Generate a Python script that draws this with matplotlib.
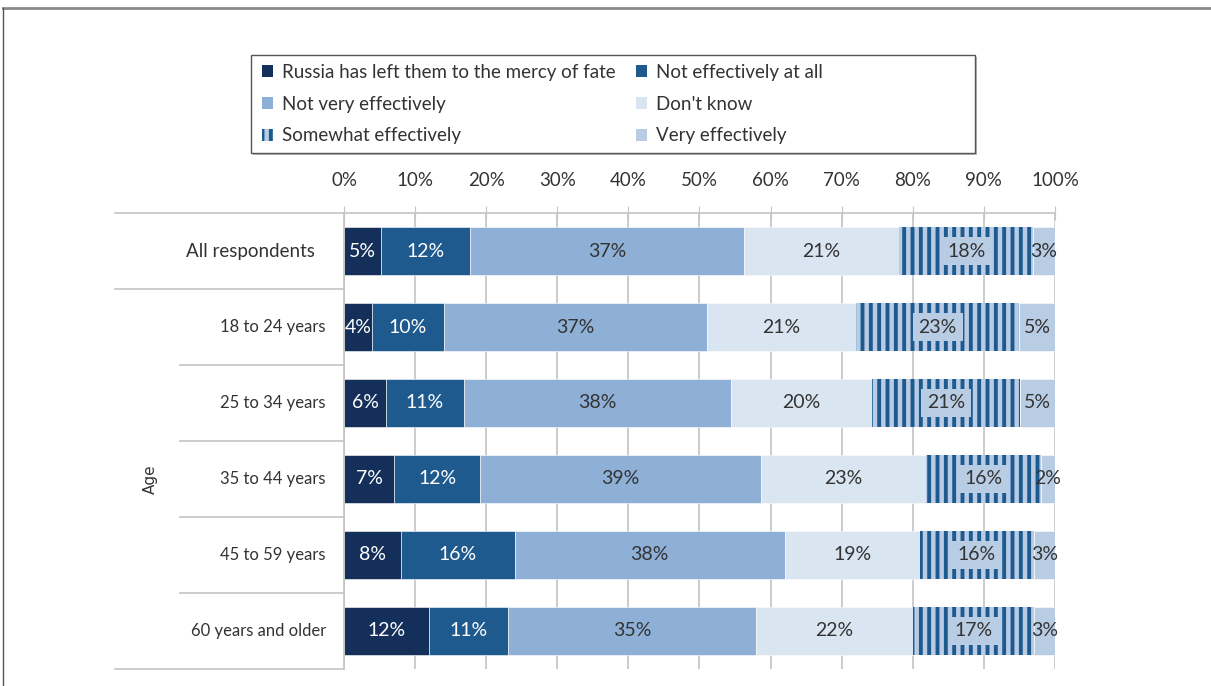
import numpy as np
import matplotlib
matplotlib.use("Agg")
import matplotlib.pyplot as plt
from matplotlib.patches import Patch, Rectangle
from matplotlib.lines import Line2D
import matplotlib.transforms as mtransforms

plt.rcParams["font.family"] = ["Lato", "DejaVu Sans"]
plt.rcParams["hatch.linewidth"] = 2.8

# Daten (Prozent, wie im Bild beschriftet)
ROWS = ["All respondents", "18 to 24 years", "25 to 34 years",
        "35 to 44 years", "45 to 59 years", "60 years and older"]
CATS = ["Russia has left them to the mercy of fate", "Not effectively at all",
        "Not very effectively", "Don't know", "Somewhat effectively",
        "Very effectively"]
mercy       = [5, 4, 6, 7, 8, 12]
not_at_all  = [12, 10, 11, 12, 16, 11]
not_very    = [37, 37, 38, 39, 38, 35]
dont_know   = [21, 21, 20, 23, 19, 22]
somewhat    = [18, 23, 21, 16, 16, 17]
very        = [3, 5, 5, 2, 3, 3]
TICKS = [0, 10, 20, 30, 40, 50, 60, 70, 80, 90, 100]

COLORS = ["#14305a", "#1f5a8e", "#8eb0d7", "#d9e5f1", "#b8cde5", "#b8cce4"]
HATCH_COL = "#1f5a8e"
TXT = "#333333"
GRID = "#c4c4c4"

series = np.array([mercy, not_at_all, not_very, dont_know, somewhat, very], dtype=float)
shares = series / series.sum(axis=0) * 100  # 100%-gestapelt

W, H = 1211, 686
fig = plt.figure(figsize=(W / 100, H / 100), dpi=100)
ax = fig.add_axes([344 / W, 17 / H, (1055 - 344) / W, (473 - 17) / H])

y = np.arange(len(ROWS))
left = np.zeros(len(ROWS))
for k, cat in enumerate(CATS):
    if k == 4:
        bars = ax.barh(y, shares[k], left=left, height=0.63, color=COLORS[k],
                       edgecolor=HATCH_COL, linewidth=0, hatch="||", zorder=2)
    else:
        bars = ax.barh(y, shares[k], left=left, height=0.63, color=COLORS[k],
                       edgecolor="white", linewidth=0.4, zorder=2)
    for i, b in enumerate(bars):
        cx = left[i] + shares[k][i] / 2
        col = "white" if k < 2 else TXT
        kw = {}
        if k == 4:
            kw["bbox"] = dict(boxstyle="square,pad=0.3", fc=COLORS[5], ec="none")
        ax.text(cx, i, f"{int(series[k][i])}%", ha="center", va="center",
                fontsize=14, color=col, zorder=4, **kw)
    left += shares[k]

ax.set_xlim(0, 100)
ax.set_ylim(len(ROWS) - 0.5, -0.5)
ax.set_xticks(TICKS)
ax.set_xticklabels([f"{t}%" for t in TICKS], fontsize=13.5, color=TXT)
ax.xaxis.tick_top()
ax.tick_params(axis="x", direction="inout", length=10, color=GRID, pad=12)
ax.set_yticks([])
ax.grid(axis="x", color=GRID, linewidth=1.2, zorder=0)
ax.set_axisbelow(True)
for s in ["right", "bottom"]:
    ax.spines[s].set_visible(False)
for s in ["top", "left"]:
    ax.spines[s].set_color(GRID)
    ax.spines[s].set_linewidth(1.2)

# Zeilenbeschriftungen und Trennlinien links
trans = mtransforms.blended_transform_factory(ax.transAxes, ax.transData)
x_far = (115 - 344) / 711
x_near = (180 - 344) / 711
for i, lab in enumerate(ROWS):
    if i == 0:
        ax.text((315 - 344) / 711, i, lab, transform=trans, ha="right",
                va="center", fontsize=13.5, color=TXT)
    else:
        ax.text((326 - 344) / 711, i, lab, transform=trans, ha="right",
                va="center", fontsize=12, color=TXT)
for yb in np.arange(-0.5, len(ROWS)):
    x0 = x_far if yb in (-0.5, 0.5, len(ROWS) - 0.5) else x_near
    ax.plot([x0, 0], [yb, yb], transform=trans, color=GRID, lw=1.2,
            clip_on=False, zorder=1)
ax.text((150 - 344) / 711, 3, "Age", transform=trans, rotation=90,
        ha="center", va="center", fontsize=11, color=TXT,
        family="DejaVu Sans")

# Legende mit eigenem Rahmen
fig.patches.append(Rectangle((253 / W, (686 - 155) / H), (975 - 251) / W, 98 / H,
                             transform=fig.transFigure, fc="#bbbbbb", ec="none", zorder=0))
fig.patches.append(Rectangle((251 / W, (686 - 153) / H), (975 - 251) / W, 98 / H,
                             transform=fig.transFigure, fc="white", ec="#555555",
                             lw=1.0, zorder=1))
handles = []
for k in [0, 2, 4, 1, 3, 5]:
    if k == 4:
        handles.append(Patch(fc=COLORS[k], ec=HATCH_COL, lw=0, hatch="||", label=CATS[k]))
    else:
        handles.append(Patch(fc=COLORS[k], ec="none", label=CATS[k]))
leg = fig.legend(handles=handles, ncol=2, loc="upper left",
                 bbox_to_anchor=(262 / W, (686 - 64) / H), frameon=False,
                 fontsize=13.5, handlelength=0.6, handleheight=0.6,
                 handletextpad=0.45, labelspacing=0.78, columnspacing=1.1,
                 borderpad=0, borderaxespad=0)
for t in leg.get_texts():
    t.set_color(TXT)

# aeusserer Rahmen
fig.add_artist(Line2D([3 / W, 1], [1 - 8 / H, 1 - 8 / H], color="#8a8a8a", lw=2))
fig.add_artist(Line2D([3 / W, 3 / W], [0, 1 - 8 / H], color="#555555", lw=1))

fig.savefig("out.png", dpi=100)
